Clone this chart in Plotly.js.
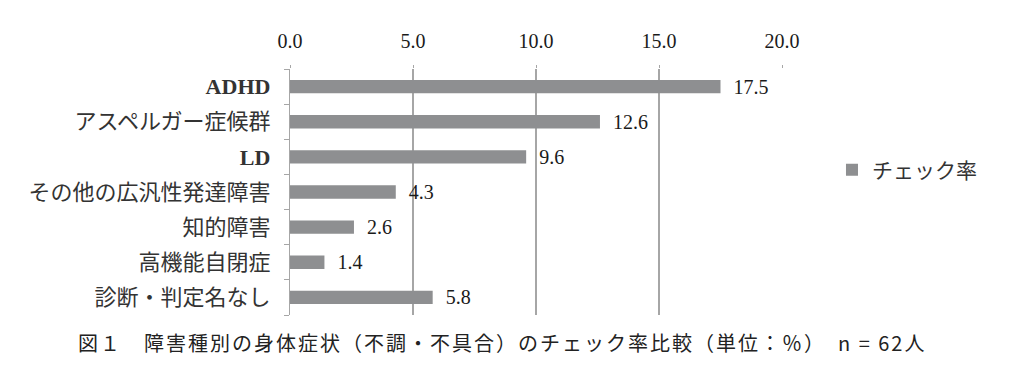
<!DOCTYPE html>
<html><head><meta charset="utf-8">
<script src="https://cdn.plot.ly/plotly-3.0.1.min.js"></script>
<style>
html,body{margin:0;padding:0;background:#fff;}
#chart .annotation-text{letter-spacing:2px;}
</style>
</head><body>
<div id="chart" style="width:1024px;height:375px;"></div>
<script>
const categories = ["ADHD", "アスペルガー症候群", "LD", "その他の広汎性発達障害", "知的障害", "高機能自閉症", "診断・判定名なし"];
const tickLabels = ["<b>ADHD</b>", "アスペルガー症候群", "<b>LD</b>", "その他の広汎性発達障害", "知的障害", "高機能自閉症", "診断・判定名なし"];
const checkRate = [17.5, 12.6, 9.6, 4.3, 2.6, 1.4, 5.8];
const seriesName = "チェック率";
const caption = "図１　障害種別の身体症状（不調・不具合）のチェック率比較（単位：％）　n = 62人";

const serif = '"Liberation Serif", "DejaVu Serif", "Noto Sans CJK JP", serif';
const sans = '"Noto Sans CJK JP", "Noto Sans", sans-serif';

const trace = {
  type: 'bar', orientation: 'h',
  x: checkRate, y: categories, name: seriesName,
  marker: {color: '#8e8f91'},
  text: checkRate.map(v => '\u00a0\u00a0' + v.toFixed(1)),
  textposition: 'outside', cliponaxis: false, constraintext: 'none',
  textfont: {family: serif, size: 20, color: '#1a1a1a'},
  hoverinfo: 'skip'
};

const layout = {
  width: 1024, height: 375,
  margin: {l: 290, r: 242, t: 69, b: 60},
  paper_bgcolor: '#fff', plot_bgcolor: '#fff',
  bargap: 0.62,
  showlegend: true,
  legend: {x: 1.1016, y: 0.589, xanchor: 'left', yanchor: 'middle',
    font: {family: serif, size: 21, color: '#333'}, itemwidth: 30},
  xaxis: {side: 'top', range: [0, 20], dtick: 5, tickformat: '.1f',
    showgrid: true, gridcolor: '#a6a6a6', gridwidth: 1.2, zeroline: false,
    ticks: 'outside', ticklen: 3, tickcolor: '#a6a6a6', showline: false,
    ticklabelstandoff: 9,
    tickfont: {family: serif, size: 20, color: '#1a1a1a'}, fixedrange: true},
  yaxis: {type: 'category', autorange: 'reversed', tickmode: 'array',
    tickvals: categories, ticktext: tickLabels,
    showline: true, linecolor: '#a6a6a6', linewidth: 1.2,
    ticks: 'outside', tickson: 'boundaries', ticklen: 5, tickcolor: '#a6a6a6',
    tickfont: {family: serif, size: 22, color: '#333'}, ticklabelstandoff: 14},
  annotations: [{text: caption, xref: 'paper', yref: 'paper',
    x: (118 - 290) / 492, y: (315 - 342) / 246, xanchor: 'left', yanchor: 'middle',
    showarrow: false, font: {family: sans, size: 20, color: '#222'}}]
};

Plotly.newPlot('chart', [trace], layout, {displayModeBar: false, staticPlot: true});
</script>
</body></html>
